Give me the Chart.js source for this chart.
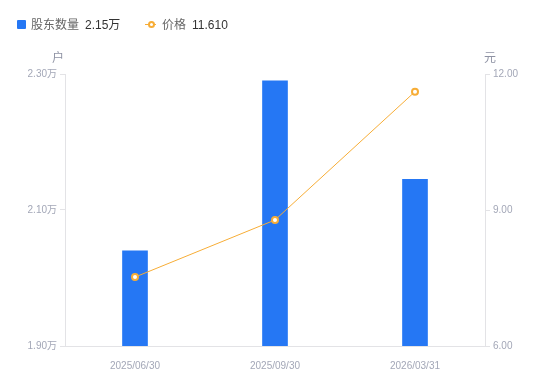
<!DOCTYPE html>
<html><head><meta charset="utf-8">
<script src="https://cdn.jsdelivr.net/npm/chart.js@4"></script>
<style>
html,body{margin:0;padding:0;background:#fff;}
#wrap{position:relative;width:550px;height:381px;font-family:"Liberation Sans",Arial,"Noto Sans CJK SC",sans-serif;}
canvas{position:absolute;left:0;top:0;}
.lg{position:absolute;top:17px;font-size:12px;line-height:16px;white-space:nowrap;color:#666;}
.lg b{font-weight:normal;color:#333;margin-left:6px;}
.sq{display:inline-block;width:9px;height:9px;background:#2577f4;border-radius:1px;vertical-align:-0px;margin-right:5px;}
.ic{display:inline-block;position:relative;width:11px;height:9px;margin-right:6px;vertical-align:0px;}
.ic:before{content:"";position:absolute;left:0;right:0;top:4px;height:1px;background:#f7ad36;}
.ic:after{content:"";position:absolute;left:2.5px;top:1px;width:3px;height:3px;border:2px solid #f7ad36;border-radius:50%;background:#fff;}
</style></head>
<body><div id="wrap">
<canvas id="c" width="550" height="381"></canvas>
<div class="lg" style="left:17px"><span class="sq"></span>股东数量<b>2.15万</b></div>
<div class="lg" style="left:145px"><span class="ic"></span>价格<b>11.610</b></div>
</div>
<script>
const categories = ["2025/06/30", "2025/09/30", "2026/03/31"];
const holders = [2.04, 2.29, 2.145];      // 万户
const prices = [7.52, 8.78, 11.61];       // 元
const leftTicks = [1.90, 2.10, 2.30];
const rightTicks = [6.00, 9.00, 12.00];

const tickColor = '#a3a7b7';
const lineGray = '#e3e3e6';
const font = {family: '"Liberation Sans", Arial, "Noto Sans CJK SC", sans-serif', size: 10};

const axisTitles = {
  id: 'axisTitles',
  afterDraw(chart) {
    const ctx = chart.ctx;
    const l = chart.scales.y, r = chart.scales.y1;
    ctx.save();
    ctx.fillStyle = '#8e92a3';
    ctx.font = '12px "Noto Sans CJK SC", sans-serif';
    ctx.textBaseline = 'middle';
    ctx.textAlign = 'right';
    ctx.fillText('户', l.right - 1, l.top - 17);
    ctx.textAlign = 'left';
    ctx.fillText('元', r.left - 1, r.top - 17);
    ctx.restore();
  }
};

new Chart(document.getElementById('c'), {
  data: {
    labels: categories,
    datasets: [
      {type: 'line', label: '价格', data: prices, yAxisID: 'y1', order: 0,
       borderColor: '#f7ad36', borderWidth: 1, pointRadius: 3, pointBorderWidth: 2,
       pointBackgroundColor: '#fff', pointBorderColor: '#f7ad36', tension: 0},
      {type: 'bar', label: '股东数量', data: holders, yAxisID: 'y', order: 1,
       backgroundColor: '#2577f4', barThickness: 25}
    ]
  },
  options: {
    responsive: false, animation: false,
    layout: {padding: {left: 0, right: 0, top: 74, bottom: 0}},
    plugins: {legend: {display: false}, tooltip: {enabled: false}},
    scales: {
      x: {
        grid: {display: false},
        border: {display: true, color: lineGray},
        ticks: {color: tickColor, font, padding: 6, maxRotation: 0},
        afterFit(s) { s.height = 35; }
      },
      y: {
        position: 'left', min: 1.9, max: 2.3,
        afterBuildTicks(s) { s.ticks = leftTicks.map(v => ({value: v})); },
        grid: {display: true, drawOnChartArea: false, drawTicks: true, tickLength: 5, color: lineGray},
        border: {display: true, color: lineGray},
        ticks: {color: tickColor, font, padding: 3, callback: v => v.toFixed(2) + '万'},
        afterFit(s) { s.width = 65; }
      },
      y1: {
        position: 'right', min: 6, max: 12,
        afterBuildTicks(s) { s.ticks = rightTicks.map(v => ({value: v})); },
        grid: {display: true, drawOnChartArea: false, drawTicks: true, tickLength: 5, color: lineGray},
        border: {display: true, color: lineGray},
        ticks: {color: tickColor, font, padding: 3, callback: v => v.toFixed(2)},
        afterFit(s) { s.width = 65; }
      }
    }
  },
  plugins: [axisTitles]
});
</script>
</body></html>
